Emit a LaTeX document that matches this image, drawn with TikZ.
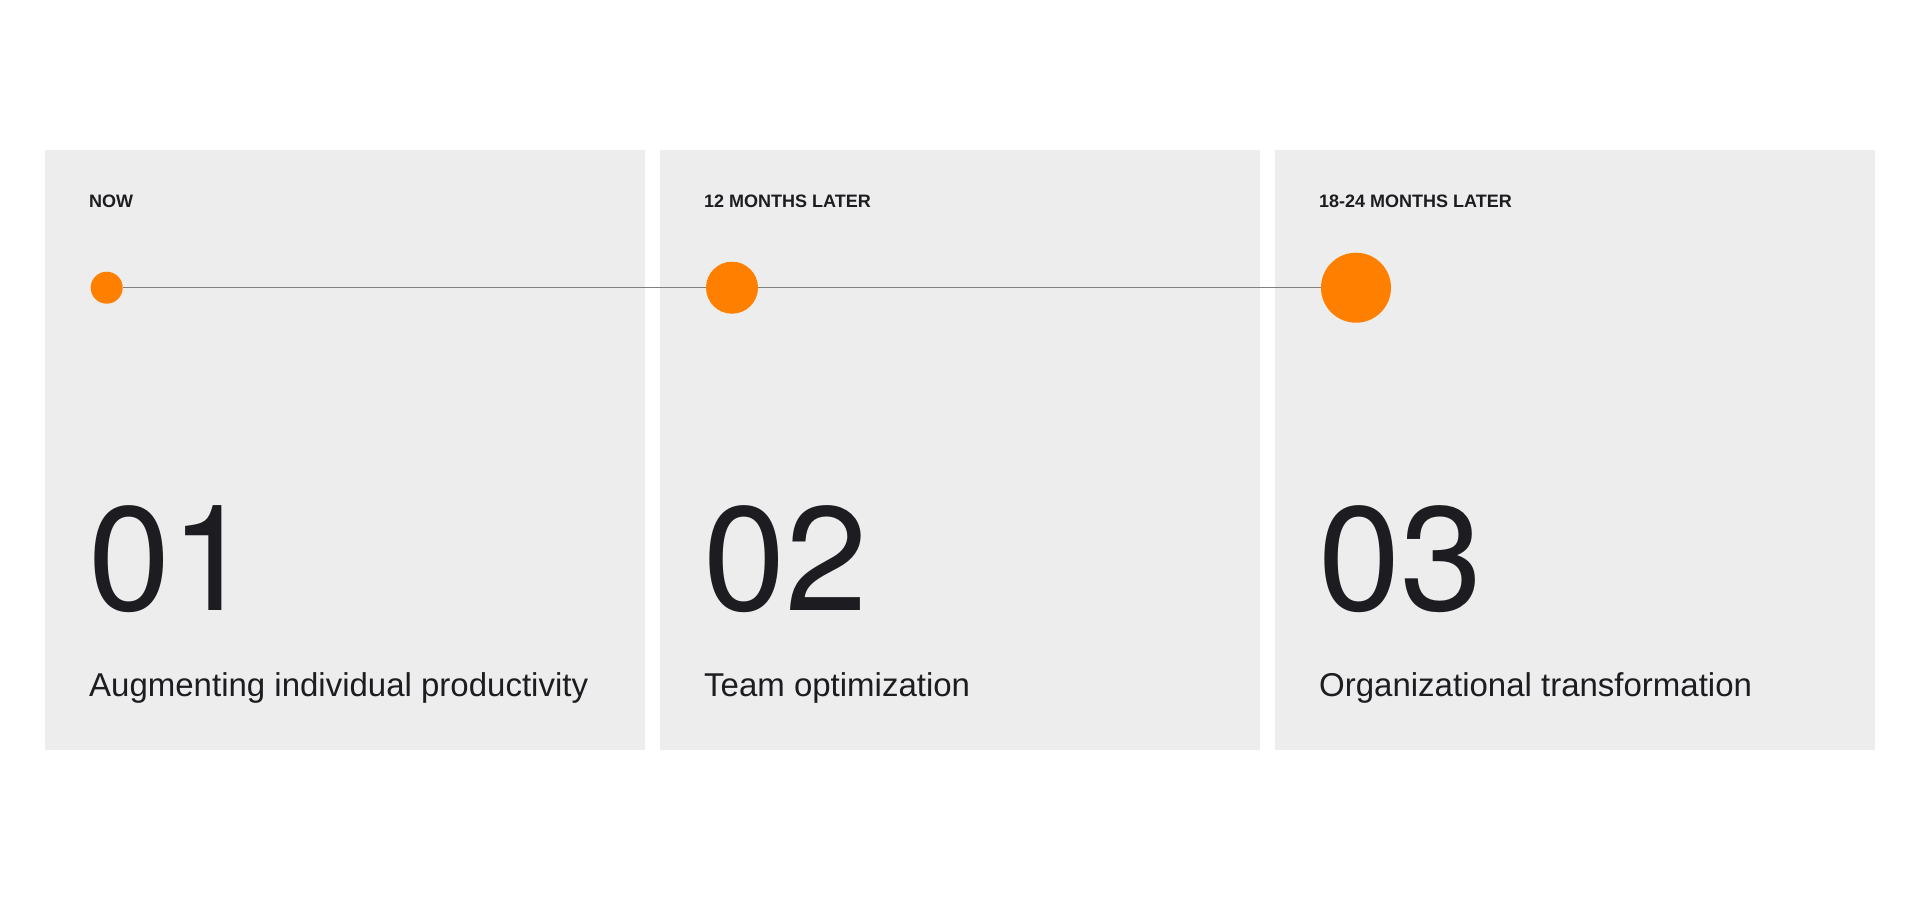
\documentclass[tikz,border=0pt]{standalone}
\usepackage{fontspec}
\setmainfont{Liberation Sans}
\newfontfamily\numfont{TeX Gyre Heros}
\definecolor{panelbg}{HTML}{EDEDED}
\definecolor{ink}{HTML}{1D1D21}
\definecolor{dotorange}{HTML}{FF8000}
\definecolor{linegray}{HTML}{808080}
\begin{document}
\begin{tikzpicture}[x=1pt,y=-1pt,
  panel/.style={fill=panelbg, draw=none},
  period/.style={anchor=base west, inner sep=0pt, text=ink, font=\fontsize{18}{18}\selectfont\bfseries},
  bignum/.style={anchor=base west, inner sep=0pt, text=ink, font=\numfont\fontsize{148}{148}\selectfont},
  caption/.style={anchor=base west, inner sep=0pt, text=ink, font=\fontsize{33}{33}\selectfont},
  dot/.style={circle, fill=dotorange, draw=none, inner sep=0pt},
  track/.style={draw=linegray, line width=1.3pt}]
\useasboundingbox (0,0) rectangle (1920,900);
\fill[white] (0,0) rectangle (1920,900);
% panels
\path[panel] (45,150) rectangle (645,750);
\path[panel] (660,150) rectangle (1260,750);
\path[panel] (1275,150) rectangle (1875,750);
% period labels
\node[period] (p1) at (89,207.5) {NOW};
\node[period] (p2) at (704,207.5) {12 MONTHS LATER};
\node[period] (p3) at (1319,207.5) {18-24 MONTHS LATER};
% dots and track
\node[dot, minimum size=32pt] (d1) at (106.7,287.7) {};
\node[dot, minimum size=52pt] (d2) at (732,287.7) {};
\node[dot, minimum size=70pt] (d3) at (1356,287.7) {};
\draw[track] (d1.east) -- (d2.west);
\draw[track] (d2.east) -- (d3.west);
% numbers
\node[bignum] (n1) at (88,610) {01};
\node[bignum] (n2) at (703,610) {02};
\node[bignum] (n3) at (1318,610) {03};
% captions
\node[caption] (c1) at (89,696) {Augmenting individual productivity};
\node[caption] (c2) at (704,696) {Team optimization};
\node[caption] (c3) at (1319,696) {Organizational transformation};
\end{tikzpicture}
\end{document}
